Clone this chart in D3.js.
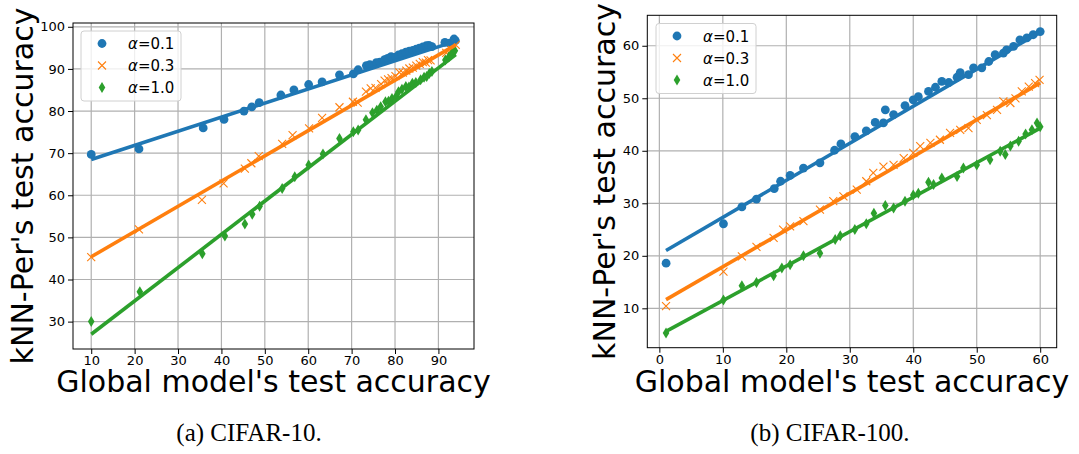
<!DOCTYPE html>
<html>
<head>
<meta charset="utf-8">
<script src="https://cdn.jsdelivr.net/npm/d3@7"></script>
<style>
  body { margin: 0; background: #fff; }
  svg { display: block; }
  .tick text { font-family: "DejaVu Sans", sans-serif; font-size: 13px; fill: #000; }
</style>
</head>
<body>
<div id="chart"></div>
<script>
// CIFAR-10 points: [global acc, kNN-Per acc]
var c10_a01 = [[10,69.7],[21,71],[35.8,76],[40.6,78],[45.2,80],[47,81],[48.7,82],[53.7,83.8],[56.7,85],[60.1,86.3],[63.2,86.9],[67.2,88.6],[70.4,88.8],[71.5,89.8],[73.4,90.8],[74.2,91],[75.7,91.5],[76.5,91.6],[77.6,92.2],[78.3,92.5],[79.1,92.9],[80.1,92.8],[80.8,93.3],[81.6,93.6],[82.5,94],[83.3,94.2],[84.1,94.4],[84.9,94.7],[85.6,94.9],[86.4,95.2],[87.2,95.5],[87.8,95.6],[88.5,95.3],[91.5,96.3],[92.6,96.1],[93.6,97.1],[93.9,96.7]];
var c10_a03 = [[10,45.3],[21,51.9],[35.5,58.9],[40.5,62.8],[45.4,66.3],[46.9,67.6],[48.6,69.3],[54,72.2],[56.4,74.3],[60.2,75.9],[63.2,78.4],[67.2,80.9],[70.3,82.2],[71.4,82],[73.3,84.6],[74.4,85.4],[75.5,85.5],[76.8,86.4],[77.6,87.2],[78.4,87.5],[79.2,87.8],[80.1,88.3],[81,89.2],[81.8,89.1],[82.6,89.6],[83.3,90.1],[84.1,90.3],[84.9,90.8],[85.7,91.2],[86.4,91.6],[87.1,91.5],[87.6,92.1],[88.2,92],[91.8,93.8],[93,94.6],[94,95.7]];
var c10_a10 = [[10,30],[21.2,37.1],[35.6,46.1],[40.8,50.3],[45.4,53.2],[47.1,55.5],[48.8,57.4],[54,61.6],[56.9,64.4],[60.1,67.2],[63.4,69.8],[67.2,73.5],[70.4,75.1],[71.5,75.5],[73.3,77.9],[74.8,79.6],[75.8,80.2],[76.7,81],[77.8,82.2],[78.5,82.3],[79.3,83],[80.2,83.4],[80.8,84.6],[81.6,85.2],[82.5,85.8],[83.2,85.7],[84,86.6],[84.8,86.8],[85.9,87.4],[86.7,88],[87.3,88.2],[87.9,88.9],[88.5,89.4],[91.6,92.1],[92.4,92.8],[93.1,93.7],[93.8,94.3]];

// CIFAR-10 fitted lines (end points)
var c10_fit01 = [[10,68.5],[94,96.6]];
var c10_fit03 = [[10,45.4],[94,95.7]];
var c10_fit10 = [[10,27.0],[94,93.4]];

// CIFAR-100 points
var c100_a01 = [[1.06,18.6],[10.1,26.1],[13,29.3],[15.3,30.8],[18.1,32.8],[19.1,34.2],[20.6,35.3],[22.7,36.7],[25.3,37.7],[27.6,40.1],[28.6,41.3],[30.8,42.7],[32.6,43.8],[34,45.4],[35.3,45.3],[35.6,47.8],[36.9,46.9],[38.7,48.6],[40,49.7],[40.8,50.3],[42.4,51.3],[43.5,52.1],[44.5,53.2],[45.6,53],[46.9,54],[47.4,54.9],[48.7,54.5],[49.5,55.8],[50.8,55.8],[51.9,57],[52.9,58.3],[54.2,58.6],[54.7,59.2],[55.8,59.9],[56.8,61.1],[57.9,61.5],[58.9,62.1],[60,62.7]];
var c100_a03 = [[1.05,10.4],[10.1,17],[13,19.9],[15.3,21.7],[18,23.4],[19.5,25],[20.6,25.6],[22.7,26.6],[25.3,28.8],[27.4,30.4],[29,31.3],[31.1,32.6],[32.6,34.2],[33.7,35.8],[35.3,37],[36.9,37.3],[38.5,38.6],[40,39.6],[41.1,40.9],[42.7,41.5],[44.2,42.1],[45.8,43.4],[47.4,44],[48.7,44.3],[50,45.9],[51.6,46.8],[53.2,47.8],[54.2,49.4],[55.3,49.1],[56.1,50],[57.1,51.3],[58.2,52.2],[59.2,52.9],[59.9,53.5]];
var c100_a10 = [[1.05,5.3],[10.1,11.6],[13,14.3],[15.3,14.9],[18,16.2],[19.3,17.7],[20.6,18.3],[22.7,20],[25.3,20.5],[27.7,23.1],[28.5,23.8],[30.8,25],[32.6,26.1],[33.8,28.1],[35.6,29.6],[36.9,29.1],[38.7,30.4],[40,31.6],[40.8,31.9],[42.4,34],[43.2,33.6],[44.5,34.8],[46.9,35.1],[47.9,36.7],[50,37.3],[52.1,38.3],[53.7,39.9],[54.5,39.3],[55.3,40.9],[56.6,41.8],[57.7,43.2],[58.7,44],[59.5,45.3],[60,44.6]];

var c100_fit01 = [[1.05,21.0],[60,62.6]];
var c100_fit03 = [[1.05,11.65],[60,52.9]];
var c100_fit10 = [[1.05,5.6],[60,44.3]];

var legendLabels = ['0.1', '0.3', '1.0'];
var colors = ['#1f77b4', '#ff7f0e', '#2ca02c'];

var svgWidth = 1079, svgHeight = 454;

var svg = d3.select('#chart').append('svg')
  .attr('width', svgWidth)
  .attr('height', svgHeight);

svg.append('rect').attr('width', svgWidth).attr('height', svgHeight).attr('fill', '#fff');

// draw a marker of the given kind centered at 0,0
function drawMarker(g, kind, color) {
  if (kind === 0) {
    g.append('circle').attr('r', 4.4).attr('fill', color);
  } else if (kind === 1) {
    g.append('path').attr('d', 'M-4,-4L4,4M-4,4L4,-4')
      .attr('stroke', color).attr('stroke-width', 1.1).attr('fill', 'none');
  } else {
    g.append('path').attr('d', 'M0,-5.5L3.3,0L0,5.5L-3.3,0Z').attr('fill', color);
  }
}

function makePanel(opts) {
  var x = d3.scaleLinear().domain(opts.xDomain).range([opts.left, opts.right]);
  var y = d3.scaleLinear().domain(opts.yDomain).range([opts.bottom, opts.top]);
  var g = svg.append('g');

  // grid
  g.append('g').selectAll('line').data(opts.xTicks).enter().append('line')
    .attr('x1', d => x(d)).attr('x2', d => x(d))
    .attr('y1', opts.top).attr('y2', opts.bottom)
    .attr('stroke', '#b0b0b0').attr('stroke-width', 1.2);
  g.append('g').selectAll('line').data(opts.yTicks).enter().append('line')
    .attr('y1', d => y(d)).attr('y2', d => y(d))
    .attr('x1', opts.left).attr('x2', opts.right)
    .attr('stroke', '#b0b0b0').attr('stroke-width', 1.2);

  // scatter points
  opts.series.forEach((s, i) => {
    g.append('g').selectAll('g').data(s).enter().append('g')
      .attr('transform', d => `translate(${x(d[0])},${y(d[1])})`)
      .each(function() { drawMarker(d3.select(this), i, colors[i]); });
  });

  // fitted lines
  var line = d3.line().x(d => x(d[0])).y(d => y(d[1]));
  opts.fits.forEach((f, i) => {
    g.append('path').attr('d', line(f))
      .attr('stroke', colors[i]).attr('stroke-width', 3.6).attr('fill', 'none');
  });

  // axes
  g.append('g').attr('transform', `translate(0,${opts.bottom})`)
    .call(d3.axisBottom(x).tickValues(opts.xTicks).tickSize(5).tickPadding(2).tickFormat(d3.format('d')))
    .call(a => a.select('.domain').remove());
  g.append('g').attr('transform', `translate(${opts.left},0)`)
    .call(d3.axisLeft(y).tickValues(opts.yTicks).tickSize(5).tickPadding(3).tickFormat(d3.format('d')))
    .call(a => a.select('.domain').remove());

  g.append('rect')
    .attr('x', opts.left).attr('y', opts.top)
    .attr('width', opts.right - opts.left).attr('height', opts.bottom - opts.top)
    .attr('fill', 'none').attr('stroke', '#000').attr('stroke-width', 1);

  // axis labels
  g.append('text')
    .attr('x', (opts.left + opts.right) / 2).attr('y', 392)
    .attr('text-anchor', 'middle')
    .attr('font-family', 'DejaVu Sans, sans-serif').attr('font-size', 30)
    .text("Global model's test accuracy");
  g.append('text')
    .attr('transform', `translate(${opts.yLabelX},${(opts.top + opts.bottom) / 2}) rotate(-90)`)
    .attr('text-anchor', 'middle')
    .attr('font-family', 'DejaVu Sans, sans-serif').attr('font-size', 30)
    .text("kNN-Per's test accuracy");

  // legend
  var lg = g.append('g').attr('transform', `translate(${opts.legend[0]},${opts.legend[1]})`);
  lg.append('rect').attr('width', 100).attr('height', 70).attr('rx', 3)
    .attr('fill', '#fff').attr('fill-opacity', 0.8)
    .attr('stroke', '#d0d0d0').attr('stroke-width', 1);
  legendLabels.forEach((lab, i) => {
    var row = lg.append('g').attr('transform', `translate(0,${12.5 + i * 22})`);
    drawMarker(row.append('g').attr('transform', 'translate(21,0)'), i, colors[i]);
    var t = row.append('text').attr('x', 47).attr('y', 5.5)
      .attr('font-family', 'DejaVu Sans, sans-serif').attr('font-size', 15);
    t.append('tspan').attr('font-style', 'italic').text('α');
    t.append('tspan').text('=' + lab);
  });

  // caption
  svg.append('text')
    .attr('x', opts.captionX).attr('y', 441)
    .attr('text-anchor', 'middle')
    .attr('font-family', 'Liberation Serif, Times New Roman, serif').attr('font-size', 25)
    .text(opts.caption);
}

makePanel({
  left: 73, right: 474, top: 23, bottom: 349,
  xDomain: [5.8, 98.2], yDomain: [23.5, 100.9],
  xTicks: [10, 20, 30, 40, 50, 60, 70, 80, 90],
  yTicks: [30, 40, 50, 60, 70, 80, 90, 100],
  series: [c10_a01, c10_a03, c10_a10],
  fits: [c10_fit01, c10_fit03, c10_fit10],
  yLabelX: 33, legend: [81, 31],
  caption: '(a) CIFAR-10.', captionX: 249
});

makePanel({
  left: 647.3, right: 1056.7, top: 15.3, bottom: 347.7,
  xDomain: [-1.9, 62.6], yDomain: [2.5, 65.8],
  xTicks: [0, 10, 20, 30, 40, 50, 60],
  yTicks: [10, 20, 30, 40, 50, 60],
  series: [c100_a01, c100_a03, c100_a10],
  fits: [c100_fit01, c100_fit03, c100_fit10],
  yLabelX: 615, legend: [656, 23.5],
  caption: '(b) CIFAR-100.', captionX: 830
});
</script>
</body>
</html>
